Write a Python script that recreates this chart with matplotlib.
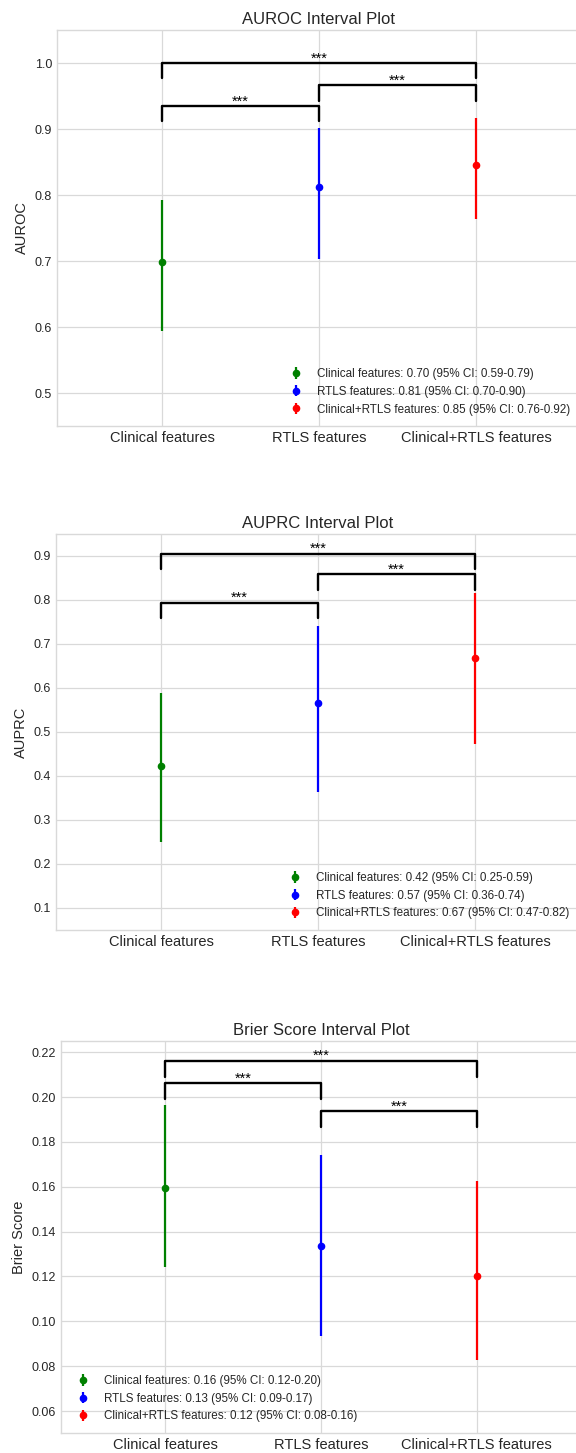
import matplotlib
matplotlib.use("Agg")
import matplotlib.pyplot as plt

plt.style.use("seaborn-v0_8-whitegrid")
plt.rcParams["font.family"] = ["Liberation Sans", "DejaVu Sans"]

categories = ["Clinical features", "RTLS features", "Clinical+RTLS features"]
colors = ["green", "blue", "red"]

auroc_mean = [0.699, 0.812, 0.846]
auroc_low = [0.5935, 0.703, 0.7636]
auroc_high = [0.792, 0.902, 0.917]

auprc_mean = [0.422, 0.566, 0.668]
auprc_low = [0.251, 0.364, 0.472]
auprc_high = [0.589, 0.741, 0.817]

brier_mean = [0.1596, 0.1335, 0.1204]
brier_low = [0.1243, 0.0934, 0.0827]
brier_high = [0.1963, 0.1743, 0.1624]

# significance brackets: (i, j, bar level)
auroc_brackets = [(0, 2, 1.000), (0, 1, 0.9345), (1, 2, 0.966)]
auprc_brackets = [(0, 2, 0.905), (0, 1, 0.794), (1, 2, 0.858)]
brier_brackets = [(0, 2, 0.2162), (0, 1, 0.2062), (1, 2, 0.1937)]
sig_label = "***"

panels = [
    dict(title="AUROC Interval Plot", ylabel="AUROC", mean=auroc_mean, low=auroc_low,
         high=auroc_high, br=auroc_brackets, drop=0.023, ylim=(0.45, 1.05),
         yticks=[0.5, 0.6, 0.7, 0.8, 0.9, 1.0], fmt="{:.1f}", loc="lower right",
         pos=[57 / 576, (1453 - 426) / 1453, 524 / 576, 396 / 1453]),
    dict(title="AUPRC Interval Plot", ylabel="AUPRC", mean=auprc_mean, low=auprc_low,
         high=auprc_high, br=auprc_brackets, drop=0.035, ylim=(0.05, 0.95),
         yticks=[0.1, 0.2, 0.3, 0.4, 0.5, 0.6, 0.7, 0.8, 0.9], fmt="{:.1f}", loc="lower right",
         pos=[56 / 576, (1453 - 930) / 1453, 524 / 576, 396 / 1453]),
    dict(title="Brier Score Interval Plot", ylabel="Brier Score", mean=brier_mean, low=brier_low,
         high=brier_high, br=brier_brackets, drop=0.0071, ylim=(0.0502, 0.225),
         yticks=[0.06, 0.08, 0.10, 0.12, 0.14, 0.16, 0.18, 0.20, 0.22], fmt="{:.2f}", loc="lower left",
         pos=[61 / 576, (1453 - 1433) / 1453, 520 / 576, 392 / 1453]),
]

fig = plt.figure(figsize=(5.76, 14.53), dpi=100)

for p in panels:
    ax = fig.add_axes(p["pos"])
    for i, cat in enumerate(categories):
        m, lo, hi = p["mean"][i], p["low"][i], p["high"][i]
        ax.errorbar([i], [m], yerr=[[m - lo], [hi - m]], fmt="o", color=colors[i],
                    markersize=4.5, elinewidth=1.6, capsize=0,
                    label=f"{cat}: {m:.2f} (95% CI: {lo:.2f}-{hi:.2f})")
    for (i, j, y) in p["br"]:
        ax.plot([i, i, j, j], [y - p["drop"], y, y, y - p["drop"]], color="black", lw=1.7)
        ax.annotate(sig_label, xy=((i + j) / 2, y), xytext=(0, 0.5), textcoords="offset points",
                    ha="center", va="baseline", fontsize=10.5, color="black")
    ax.set_xlim(-0.67, 2.67)
    ax.set_ylim(*p["ylim"])
    ax.set_xticks(range(len(categories)))
    ax.set_xticklabels(categories, fontsize=10.5)
    ax.set_yticks(p["yticks"])
    ax.set_yticklabels([p["fmt"].format(v) for v in p["yticks"]], fontsize=9)
    ax.set_ylabel(p["ylabel"], fontsize=10.5)
    ax.set_title(p["title"], fontsize=12, pad=4)
    for s in ax.spines.values():
        s.set_visible(True)
        s.set_color("0.85")
        s.set_linewidth(1.0)
    ax.grid(True, color="0.85", linewidth=0.9)
    ax.legend(loc=p["loc"], fontsize=8.4, frameon=False)

fig.savefig("out.png", dpi=100)
